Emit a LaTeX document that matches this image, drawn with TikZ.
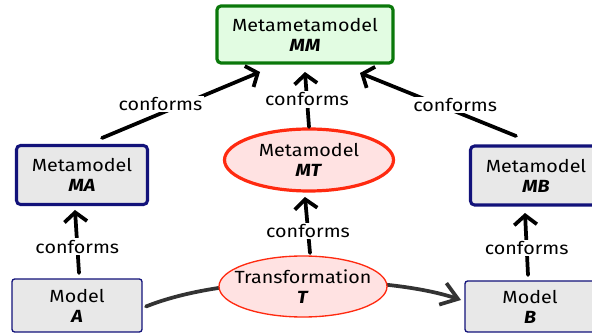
\documentclass[tikz,border=0pt]{standalone}
\usepackage{fontspec}
\setmainfont{Fira Sans}[FakeStretch=1.12]
\usetikzlibrary{arrows.meta,shapes.geometric,calc}
\definecolor{mmgreen}{HTML}{0A780A}
\definecolor{mmfill}{HTML}{E2FCE2}
\definecolor{navyb}{HTML}{12127A}
\definecolor{grayfill}{HTML}{E8E8E8}
\definecolor{redb}{HTML}{FF2A10}
\definecolor{pinkfill}{HTML}{FFE2E2}
\definecolor{darkline}{HTML}{333333}
\tikzset{
  x=0.75pt,y=-0.75pt,
  every node/.style={font=\fontsize{13.2}{15}\selectfont, align=center, outer sep=0pt},
  mmbox/.style={draw=mmgreen, fill=mmfill, line width=2.4pt, rounded corners=3pt, minimum width=176*0.75pt, minimum height=57*0.75pt, inner sep=0pt},
  metabox/.style={draw=navyb, fill=grayfill, line width=2.3pt, rounded corners=3pt, minimum width=131*0.75pt, minimum height=59*0.75pt, inner sep=0pt},
  modelbox/.style={draw=navyb, fill=grayfill, line width=1pt, rounded corners=2pt, minimum width=130*0.75pt, minimum height=52*0.75pt, inner sep=0pt},
  metaell/.style={ellipse, draw=redb, fill=pinkfill, line width=2.4pt, minimum width=169*0.75pt, minimum height=62*0.75pt, inner sep=-40pt},
  transell/.style={ellipse, draw=redb, fill=pinkfill, line width=1pt, minimum width=168*0.75pt, minimum height=61*0.75pt, inner sep=-40pt},
  conf/.style={draw=black, line width=2.8pt, line cap=round, -{Straight Barb[length=7pt,width=17pt,line width=2.8pt]}},
  lbl/.style={fill=white, inner sep=1pt},
  flow/.style={draw=darkline, line width=2.8pt, line cap=round, -{Straight Barb[length=12pt,width=17pt,line width=2.8pt]}}
}
\begin{document}
\begin{tikzpicture}
\useasboundingbox (0,0) rectangle (592,334);
\clip (0,0) rectangle (592,334);
% nodes
\node[mmbox] (MM) at (305,34.5) {Metametamodel\\\textbf{\textit{MM}}};
\node[metabox] (MA) at (82,175) {Metamodel\\\textbf{\textit{MA}}};
\node[metaell] (MT) at (309,160) {Metamodel\\\textbf{\textit{MT}}};
\node[metabox] (MB) at (536,175.5) {Metamodel\\\textbf{\textit{MB}}};
\node[modelbox, minimum height=53*0.75pt] (A) at (77,305.5) {Model\\\textbf{\textit{A}}};
\node[modelbox, minimum height=51*0.75pt] (B) at (530,306.5) {Model\\\textbf{\textit{B}}};
% transformation flow (behind T)
\draw[flow] ($(A.east)+(4,1)$) .. controls (232,272) and (390,276) .. ($(B.west)+(-4,-6.5)$);
\node[transell] (T) at (303,286.5) {Transformation\\\textbf{\textit{T}}};
% conforms arrows
\draw[conf] ($(MA.north)+(20,-7.5)$) -- node[lbl, pos=0.37, yshift=7pt] {conforms} ($(MM.south)+(-45,9)$);
\draw[conf] ($(MT.north)+(0,-2)$) -- node[lbl, pos=0.5] {conforms} ($(MM.south)+(0,9)$);
\draw[conf] ($(MB.north)+(-20,-10)$) -- node[lbl, pos=0.39, yshift=5pt] {conforms} ($(MM.south)+(55,10)$);
\draw[conf] ($(A.north)+(2,-6)$) -- node[lbl, pos=0.42] {conforms} ($(MA.south)+(-7,5.5)$);
\draw[conf] ($(T.north)+(7,-3)$) -- node[lbl, pos=0.4] {conforms} ($(MT.south)+(-4,6)$);
\draw[conf] ($(B.north)+(-2,-6)$) -- node[lbl, pos=0.44] {conforms} ($(MB.south)+(-11,8)$);
\end{tikzpicture}
\end{document}
